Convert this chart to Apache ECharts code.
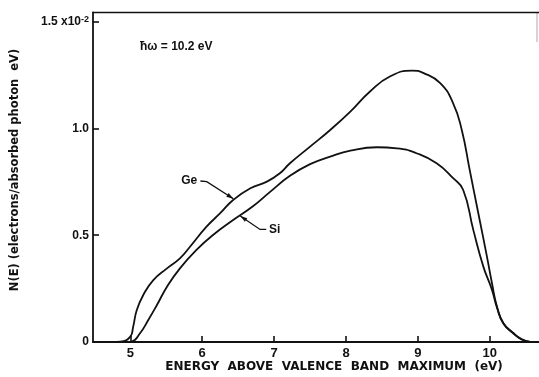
<!DOCTYPE html>
<html>
<head>
<meta charset="utf-8">
<style>
  html, body { margin: 0; padding: 0; background: #fff; }
  #chart { width: 539px; height: 377px; }
</style>
<script src="https://cdn.jsdelivr.net/npm/echarts@6/dist/echarts.min.js"></script>
</head>
<body>
<div id="chart"></div>
<script>
// Energy distribution of photoemitted electrons, N(E) in units of 1e-2
const geEnergy = [4.75, 4.86, 5.0, 5.04, 5.09, 5.18, 5.32, 5.51, 5.69, 5.83, 6.06, 6.25, 6.43, 6.67, 6.90, 7.08, 7.22, 7.50, 7.78, 8.06, 8.33, 8.61, 8.92, 9.08, 9.31, 9.49, 9.61, 9.72, 9.84, 9.96, 10.03, 10.10, 10.19, 10.33, 10.44, 10.56];
const geValue  = [0, 0.002, 0.025, 0.072, 0.150, 0.220, 0.290, 0.345, 0.392, 0.446, 0.540, 0.603, 0.665, 0.720, 0.751, 0.790, 0.837, 0.915, 0.993, 1.079, 1.172, 1.243, 1.271, 1.259, 1.212, 1.118, 0.993, 0.806, 0.603, 0.400, 0.275, 0.165, 0.088, 0.041, 0.014, 0];

const siEnergy = [4.95, 5.02, 5.135, 5.25, 5.37, 5.51, 5.69, 5.92, 6.15, 6.43, 6.71, 6.94, 7.22, 7.50, 7.78, 8.06, 8.43, 8.71, 8.98, 9.26, 9.49, 9.63, 9.77, 9.91, 10.03, 10.10, 10.19, 10.33, 10.44, 10.56];
const siValue  = [0, 0.002, 0.041, 0.103, 0.173, 0.259, 0.345, 0.431, 0.501, 0.571, 0.637, 0.702, 0.778, 0.833, 0.868, 0.896, 0.912, 0.907, 0.884, 0.837, 0.767, 0.712, 0.525, 0.353, 0.244, 0.160, 0.085, 0.040, 0.012, 0];

const xTicks = [5, 6, 7, 8, 9, 10];
const yTicks = [0, 0.5, 1.0, 1.5];
const yTickLabels = ['0', '0.5', '1.0', '{m|1.5 x10}{s|-2}'];

const ink = '#111';
const fontFamily = '"Liberation Sans", "DejaVu Sans", sans-serif';

const chart = echarts.init(document.getElementById('chart'), null, { renderer: 'canvas' });

function pairs(xs, ys) { return xs.map((x, i) => [x, ys[i]]); }

chart.setOption({
  animation: false,
  backgroundColor: '#fff',
  grid: { left: 93, right: 0, top: 12.5, bottom: 35 },
  xAxis: [{
    type: 'value', min: 4.481, max: 10.684,
    axisLine: { show: true, lineStyle: { color: ink, width: 1.8 } },
    axisTick: { show: true, inside: true, length: 6, customValues: xTicks, lineStyle: { color: ink, width: 1.6 } },
    axisLabel: {
      customValues: xTicks, margin: 5, color: ink,
      fontFamily: fontFamily, fontWeight: 'bold', fontSize: 13
    },
    splitLine: { show: false }
  }, {
    type: 'value', position: 'top', min: 4.481, max: 10.684,
    axisLine: { show: true, onZero: false, lineStyle: { color: ink, width: 1.4 } },
    axisTick: { show: false }, axisLabel: { show: false }, splitLine: { show: false }
  }],
  yAxis: {
    type: 'value', min: 0, max: 1.543,
    axisLine: { show: true, lineStyle: { color: ink, width: 1.8 } },
    axisTick: { show: true, inside: true, length: 6, customValues: yTicks, lineStyle: { color: ink, width: 1.6 } },
    axisLabel: {
      customValues: yTicks, margin: 4, color: ink,
      fontFamily: fontFamily, fontWeight: 'bold', fontSize: 12,
      formatter: function (v) {
        const i = yTicks.findIndex(t => Math.abs(t - v) < 1e-9);
        return i >= 0 ? yTickLabels[i] : '';
      },
      rich: {
        m: { fontFamily: fontFamily, fontWeight: 'bold', fontSize: 12, color: ink, lineHeight: 14 },
        s: { fontFamily: fontFamily, fontWeight: 'bold', fontSize: 9, color: ink, verticalAlign: 'top', lineHeight: 14, padding: [0, 0, 6, 0] }
      }
    },
    splitLine: { show: false }
  },
  series: [{
    name: 'Ge', type: 'line', data: pairs(geEnergy, geValue),
    showSymbol: false, smooth: 0.5,
    lineStyle: { color: ink, width: 1.8 }
  }, {
    name: 'Si', type: 'line', data: pairs(siEnergy, siValue),
    showSymbol: false, smooth: 0.5,
    lineStyle: { color: ink, width: 1.8 }
  }]
});

// Leader lines from the curve names, anchored in data coordinates
function px(p) { return chart.convertToPixel({ gridIndex: 0 }, p); }

function leader(pointsData) {
  const pts = pointsData.map(px);
  const tip = pts[pts.length - 1], prev = pts[pts.length - 2];
  const dx = tip[0] - prev[0], dy = tip[1] - prev[1];
  const len = Math.hypot(dx, dy);
  const ux = dx / len, uy = dy / len, nx = -uy, ny = ux;
  const bx = tip[0] - ux * 7, by = tip[1] - uy * 7;
  return [{
    type: 'polyline', shape: { points: pts },
    style: { stroke: ink, lineWidth: 1.3, fill: null }
  }, {
    type: 'polygon',
    shape: { points: [tip, [bx + nx * 2.2, by + ny * 2.2], [bx - nx * 2.2, by - ny * 2.2]] },
    style: { fill: ink }
  }];
}

const geLabelAt = px([5.93, 0.754]);
const siLabelAt = px([6.93, 0.525]);

chart.setOption({
  graphic: [
    ...leader([[5.975, 0.754], [6.063, 0.751], [6.433, 0.671]]),
    ...leader([[6.89, 0.527], [6.804, 0.527], [6.53, 0.590]]),
    {
      type: 'text', x: geLabelAt[0], y: geLabelAt[1],
      style: { text: 'Ge', fill: ink, font: 'bold 12px ' + fontFamily, textAlign: 'right', textVerticalAlign: 'middle' }
    }, {
      type: 'text', x: siLabelAt[0], y: siLabelAt[1],
      style: { text: 'Si', fill: ink, font: 'bold 12px ' + fontFamily, textAlign: 'left', textVerticalAlign: 'middle' }
    }, {
      type: 'text', x: 140, y: 47,
      style: { text: 'ħω = 10.2 eV', fill: ink, font: 'bold 12px ' + fontFamily, textAlign: 'left', textVerticalAlign: 'middle' }
    }, {
      type: 'text', x: 334, y: 367,
      style: { text: 'ENERGY  ABOVE  VALENCE  BAND  MAXIMUM  (eV)', fill: ink, font: 'bold 12px "DejaVu Sans", sans-serif', textAlign: 'center', textVerticalAlign: 'middle' }
    }, {
      type: 'text', x: 15, y: 170, rotation: Math.PI / 2,
      style: { text: 'N(E) (electrons/absorbed photon  eV)', fill: ink, font: 'bold 11.5px "DejaVu Sans", sans-serif', textAlign: 'center', textVerticalAlign: 'middle' }
    }, {
      type: 'line', shape: { x1: 537, y1: 12.5, x2: 537, y2: 42 },
      style: { stroke: '#aaa', lineWidth: 1 }
    }
  ]
});
</script>
</body>
</html>
